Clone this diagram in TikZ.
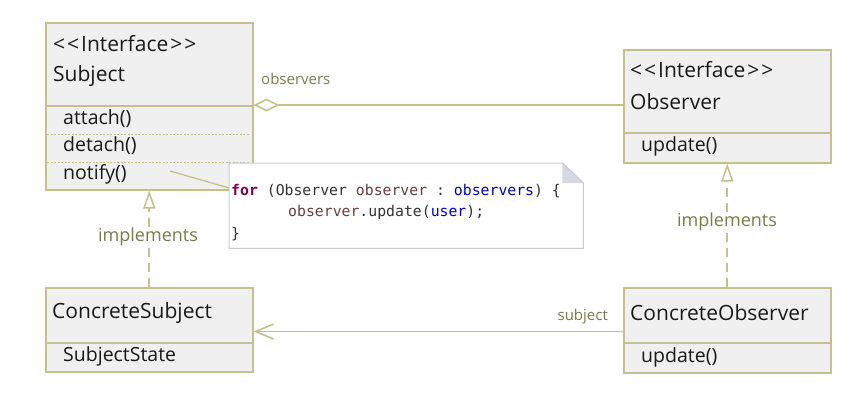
\documentclass[tikz,border=0pt]{standalone}
\usepackage{fontspec}
\setmainfont{Open Sans}
\setmonofont{DejaVu Sans Mono}
\usetikzlibrary{arrows.meta,shadows}
\definecolor{boxc}{HTML}{C8C08A}
\definecolor{boxfill}{HTML}{F0F0F0}
\definecolor{lblc}{HTML}{7B7B4C}
\definecolor{notec}{HTML}{C8CCD8}
\definecolor{foldc}{HTML}{D6D9E2}
\definecolor{kwc}{HTML}{7F0055}
\definecolor{varc}{HTML}{6A3E3E}
\definecolor{fldc}{HTML}{0000C0}
\definecolor{codec}{HTML}{333333}
\newcommand{\lgl}{<\kern2pt<\kern2pt}
\newcommand{\rgl}{\kern2pt>\kern2pt>}
\tikzset{
  cell/.style={draw=boxc, fill=boxfill, line width=1.5pt, anchor=north west, inner sep=0pt},
  shad/.style={drop shadow={shadow xshift=1pt, shadow yshift=-2pt, opacity=0.25, fill=black!60}},
  ttl/.style={anchor=west, font=\fontsize{21}{24}\selectfont, text=black!90, inner sep=0pt},
  opt/.style={anchor=west, font=\fontsize{19.5}{23}\selectfont, text=black!90, inner sep=0pt},
  lbl/.style={font=\fontsize{18}{21}\selectfont, text=lblc, inner sep=0pt},
  slbl/.style={font=\fontsize{15}{18}\selectfont, text=lblc, inner sep=0pt},
  conn/.style={draw=boxc, line width=1.6pt},
  impl/.style={conn, dash pattern=on 9pt off 6pt, -{Triangle[open, length=18pt, width=12pt, fill=white, line width=1.5pt]}},
  aggr/.style={conn, {Diamond[open, length=26pt, width=13pt, fill=white]}-},
  assoc/.style={conn, -{Straight Barb[length=18pt, width=15pt]}},
  code/.style={anchor=west, font=\ttfamily\fontsize{14.8}{17}\selectfont, text=codec, inner sep=0pt},
}
\begin{document}
\begin{tikzpicture}[x=1pt, y=-1pt]
\useasboundingbox[fill=white] (0,0) rectangle (861,418);

% Subject
\node[cell, shad, minimum width=207pt, minimum height=83pt] (subjHead) at (45,22) {};
\node[cell, minimum width=207pt, minimum height=84pt] (subjOps) at (45,105) {};
\draw[boxc, line width=0.8pt, dash pattern=on 2pt off 1.5pt] (47,134) -- (250,134);
\draw[boxc, line width=0.8pt, dash pattern=on 2pt off 1.5pt] (47,162) -- (250,162);
\node[ttl] (subjSt) at (53,44) {\lgl Interface\rgl};
\node[ttl] (subjName) at (53,76) {Subject};
\node[opt] (attach) at (63,119) {attach()};
\node[opt] (detach) at (63,146) {detach()};
\node[opt] (notify) at (63,174) {notify()};

% Observer
\node[cell, shad, minimum width=207pt, minimum height=83pt] (obsHead) at (623,49) {};
\node[cell, minimum width=207pt, minimum height=30pt] (obsOps) at (623,132) {};
\node[ttl] (obsSt) at (630,70) {\lgl Interface\rgl};
\node[ttl] (obsName) at (630,102) {Observer};
\node[opt] (obsUpd) at (641,146) {update()};

% ConcreteSubject
\node[cell, shad, minimum width=207pt, minimum height=55pt] (csHead) at (45,287) {};
\node[cell, minimum width=207pt, minimum height=29pt] (csOps) at (45,342) {};
\node[ttl] (csName) at (52,313) {ConcreteSubject};
\node[opt] (csState) at (63,356) {SubjectState};

% ConcreteObserver
\node[cell, shad, minimum width=207pt, minimum height=55pt] (coHead) at (623,287) {};
\node[cell, minimum width=207pt, minimum height=30pt] (coOps) at (623,342) {};
\node[ttl] (coName) at (630,313) {ConcreteObserver};
\node[opt] (coUpd) at (641,357) {update()};

% Note
\node[anchor=north west, minimum width=354pt, minimum height=85pt, inner sep=0pt] (note) at (229,163) {};
\draw[notec, fill=white, line width=1pt]
  (note.north west) -- ([xshift=-21pt]note.north east) -- ([yshift=-20pt]note.north east)
  -- (note.south east) -- (note.south west) -- cycle;
\fill[foldc] ([xshift=-21pt]note.north east) -- ([yshift=-20pt]note.north east) -- ([xshift=-21pt, yshift=-20pt]note.north east) -- cycle;
\draw[notec, line width=1pt] ([xshift=-21pt]note.north east) -- ([yshift=-20pt]note.north east);
\node[code] (c1) at (231,191) {\textcolor{kwc}{\textbf{for}} (Observer \textcolor{varc}{observer} : \textcolor{fldc}{observers}) \{};
\node[code] (c2) at (288,212) {\textcolor{varc}{observer}.update(\textcolor{fldc}{user});};
\node[code] (c3) at (231,234) {\}};
\coordinate (notifyEnd) at (170,171);
\draw[conn, line width=1.3pt] (notifyEnd) -- ([yshift=-25pt]note.north west);

% Connectors
\draw[aggr] (subjOps.north east) -- (obsHead.west |- subjOps.north east);
\node[slbl, anchor=west] (lobs) at (261,79) {observers};

\draw[impl] (csHead.north) -- (subjOps.south);
\node[lbl, fill=white, inner sep=1pt] (limpl1) at (148,237) {implements};

\draw[impl] (coHead.north) -- (obsOps.south);
\node[lbl, fill=white, inner sep=1pt] (limpl2) at (727,222) {implements};

\draw[assoc] ([yshift=12pt]coHead.south west) -- ([yshift=12pt]csHead.south east);
\node[slbl, anchor=east] (lsub) at (608,317) {subject};
\end{tikzpicture}
\end{document}
